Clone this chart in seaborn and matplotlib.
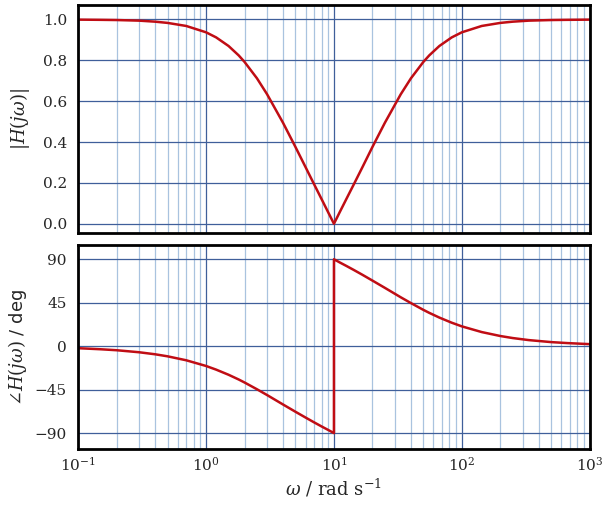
import matplotlib
matplotlib.use("Agg")
import matplotlib.pyplot as plt
import seaborn as sns
import pandas as pd
import numpy as np


# values (notch at 10 rad/s)
omega = [0.1, 0.15, 0.2, 0.3, 0.4, 0.5, 0.7, 1.0, 1.2, 1.5, 1.8, 2.0, 2.5, 3.0, 4.0,
         5.0, 6.0, 7.0, 8.0, 9.0,
         10.0, 10.0,
         11.1, 12.5, 14.3, 16.7, 20.0, 25.0, 33.3, 40.0, 50.0, 55.6, 66.7, 83.3,
         100.0, 143.0, 200.0, 250.0, 333.0, 500.0, 667.0, 1000.0]
magnitude = [0.999, 0.998, 0.997, 0.994, 0.989, 0.983, 0.968, 0.937, 0.912, 0.870,
             0.824, 0.792, 0.712, 0.634, 0.494, 0.376, 0.277, 0.193, 0.121, 0.057,
             0.0, 0.0,
             0.057, 0.121, 0.193, 0.277, 0.376, 0.494, 0.634, 0.712, 0.792, 0.824,
             0.870, 0.912, 0.937, 0.968, 0.983, 0.989, 0.994, 0.997, 0.998, 0.999]
phase = [-2.1, -3.2, -4.2, -6.3, -8.4, -10.5, -14.6, -20.5, -24.3, -29.6, -34.5,
         -37.6, -44.6, -50.6, -60.4, -67.9, -73.9, -78.9, -83.1, -86.7,
         -90.0, 90.0,
         86.7, 83.1, 78.9, 73.9, 67.9, 60.4, 50.6, 44.6, 37.6, 34.5, 29.6, 24.3,
         20.5, 14.6, 10.5, 8.4, 6.3, 4.2, 3.2, 2.1]

mag_ticks = [0.0, 0.2, 0.4, 0.6, 0.8, 1.0]
phase_ticks = [-90, -45, 0, 45, 90]

df = pd.DataFrame({"omega": omega, "mag": magnitude, "phase": phase})

sns.set_style("white")
plt.rcParams["font.family"] = ["DejaVu Serif"]
plt.rcParams["mathtext.fontset"] = "dejavuserif"

line_color = "#c00d14"
major_color = "#3f5f9a"
minor_color = "#a9c3df"

fig = plt.figure(figsize=(6.15, 5.12), dpi=100)
ax1 = fig.add_axes([0.127, 0.545, 0.832, 0.445])
ax2 = fig.add_axes([0.127, 0.123, 0.832, 0.398])

sns.lineplot(data=df, x="omega", y="mag", ax=ax1, color=line_color, lw=1.8,
             sort=False, estimator=None)
sns.lineplot(data=df, x="omega", y="phase", ax=ax2, color=line_color, lw=1.8,
             sort=False, estimator=None)

for ax in (ax1, ax2):
    ax.set_xscale("log")
    ax.set_xlim(0.1, 1000)
    ax.set_axisbelow(True)
    ax.grid(True, which="major", color=major_color, lw=0.9)
    ax.grid(True, which="minor", axis="x", color=minor_color, lw=0.9)
    for s in ax.spines.values():
        s.set_color("black")
        s.set_linewidth(2.0)
    ax.tick_params(which="both", length=0, labelsize=11, pad=5)
    ax.tick_params(axis="y", length=3, direction="out", color="black")

ax1.set_ylim(-0.045, 1.07)
ax1.set_yticks(mag_ticks)
ax1.set_yticklabels([f"{t:.1f}" for t in mag_ticks])
ax1.set_xticklabels([])
ax1.set_xlabel("")
ax1.set_ylabel(r"$|H(j\omega)|$", fontsize=13, labelpad=8)

ax2.set_ylim(-106.5, 104.5)
ax2.set_yticks(phase_ticks)
ax2.set_yticklabels([str(t).replace("-", "\u2212") for t in phase_ticks])
ax2.set_ylabel(r"$\angle H(j\omega)$ / deg", fontsize=13, labelpad=4,
               family=["DejaVu Sans"])
ax2.set_xlabel(r"$\omega$ / rad s$^{-1}$", fontsize=13, labelpad=2)

fig.savefig("out.png", dpi=100)
